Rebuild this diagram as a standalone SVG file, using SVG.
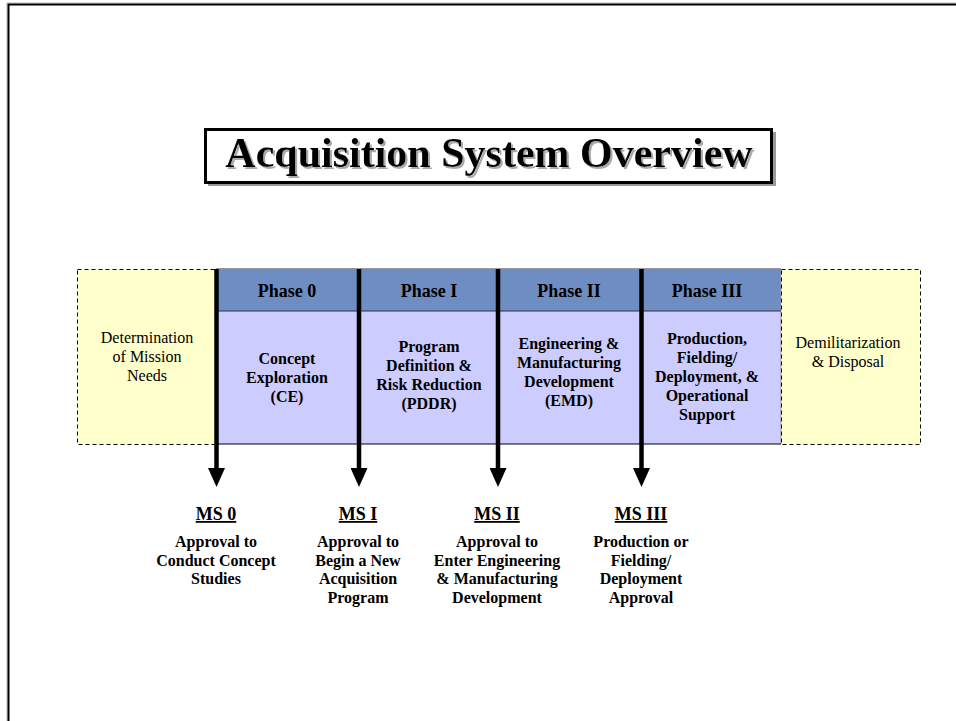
<svg xmlns="http://www.w3.org/2000/svg" width="956" height="721" viewBox="0 0 956 721" font-family="'Liberation Serif', 'Times New Roman', serif">
<defs>
<marker id="ah" viewBox="0 0 19 17" markerWidth="19" markerHeight="17" refX="0" refY="8.5" orient="auto" markerUnits="userSpaceOnUse">
<path d="M0,0 L19,8.5 L0,17 z" fill="#000"/>
</marker>
<filter id="sh" x="-5%" y="-20%" width="110%" height="150%">
<feOffset in="SourceAlpha" dx="2" dy="2" result="o"/>
<feFlood flood-color="#aaaaaa"/>
<feComposite in2="o" operator="in" result="s"/>
<feMerge><feMergeNode in="s"/><feMergeNode in="SourceGraphic"/></feMerge>
</filter>
</defs>
<style>
text{font-family:'Liberation Serif','Times New Roman',serif;fill:#000;text-anchor:middle}
.b{font-weight:bold;font-size:16px}
.n{font-size:16px}
.h{font-weight:bold;font-size:18px}
.ms{font-weight:bold;font-size:18px;text-decoration:underline}
.yel{fill:#FFFFCC;stroke:#000;stroke-width:1;stroke-dasharray:4,3}
.hdr{fill:#6E8DC2}
.body{fill:#CCCCFF}
.conn{stroke:#000;stroke-width:4.5;fill:none}
</style>
<rect width="956" height="721" fill="#fff"/>
<g id="page-frame">
<rect x="7" y="3" width="1000" height="800" fill="none" stroke="#bbb" stroke-width="1"/>
<rect x="8.5" y="4.5" width="1000" height="800" fill="none" stroke="#000" stroke-width="2"/>
</g>
<g id="title">
<rect x="208" y="132" width="568" height="54" fill="#999"/>
<rect x="205.5" y="129.5" width="566" height="53" fill="#fff" stroke="#000" stroke-width="3"/>
<text x="489" y="167" filter="url(#sh)" style="font-weight:bold;font-size:42px">Acquisition System Overview</text>
</g>
<g id="needs">
<rect class="yel" x="77.5" y="269.5" width="139" height="175"/>
<text class="n" x="147" y="343">Determination</text>
<text class="n" x="147" y="362">of Mission</text>
<text class="n" x="147" y="381">Needs</text>
</g>
<g id="phase0">
<rect class="hdr" x="216" y="269" width="143" height="42"/>
<rect class="body" x="216" y="311" width="143" height="133"/>
<text class="h" x="287" y="297">Phase 0</text>
<text class="b" x="287" y="364">Concept</text>
<text class="b" x="287" y="383">Exploration</text>
<text class="b" x="287" y="402">(CE)</text>
</g>
<g id="phase1">
<rect class="hdr" x="359" y="269" width="139" height="42"/>
<rect class="body" x="359" y="311" width="139" height="133"/>
<text class="h" x="429" y="297">Phase I</text>
<text class="b" x="429" y="352">Program</text>
<text class="b" x="429" y="371">Definition &amp;</text>
<text class="b" x="429" y="390">Risk Reduction</text>
<text class="b" x="429" y="409">(PDDR)</text>
</g>
<g id="phase2">
<rect class="hdr" x="498" y="269" width="143" height="42"/>
<rect class="body" x="498" y="311" width="143" height="133"/>
<text class="h" x="569" y="297">Phase II</text>
<text class="b" x="569" y="349">Engineering &amp;</text>
<text class="b" x="569" y="368">Manufacturing</text>
<text class="b" x="569" y="387">Development</text>
<text class="b" x="569" y="406">(EMD)</text>
</g>
<g id="phase3">
<rect class="hdr" x="641" y="269" width="140" height="42"/>
<rect class="body" x="641" y="311" width="140" height="133"/>
<line x1="781" y1="269" x2="781" y2="444" stroke="#999" stroke-width="1"/>
<text class="h" x="707" y="297">Phase III</text>
<text class="b" x="707" y="344">Production,</text>
<text class="b" x="707" y="363">Fielding/</text>
<text class="b" x="707" y="382">Deployment, &amp;</text>
<text class="b" x="707" y="401">Operational</text>
<text class="b" x="707" y="420">Support</text>
</g>
<g id="band-lines">
<line x1="216" y1="268.5" x2="781" y2="268.5" stroke="#999" stroke-width="1"/>
<line x1="216" y1="311" x2="781" y2="311" stroke="#333" stroke-width="1.2"/>
<line x1="216" y1="444" x2="781" y2="444" stroke="#000" stroke-width="1.2"/>
</g>
<g id="disposal">
<rect class="yel" x="781.5" y="269.5" width="139" height="175"/>
<text class="n" x="848" y="348">Demilitarization</text>
<text class="n" x="848" y="367">&amp; Disposal</text>
</g>
<g id="connectors">
<line class="conn" x1="216.5" y1="269" x2="216.5" y2="468" marker-end="url(#ah)"/>
<line class="conn" x1="359" y1="269" x2="359" y2="468" marker-end="url(#ah)"/>
<line class="conn" x1="498" y1="269" x2="498" y2="468" marker-end="url(#ah)"/>
<line class="conn" x1="641.5" y1="269" x2="641.5" y2="468" marker-end="url(#ah)"/>
</g>
<g id="ms0">
<text class="ms" x="216" y="520">MS 0</text>
<text class="b" x="216" y="547">Approval to</text>
<text class="b" x="216" y="565.5">Conduct Concept</text>
<text class="b" x="216" y="584">Studies</text>
</g>
<g id="ms1">
<text class="ms" x="358" y="520">MS I</text>
<text class="b" x="358" y="547">Approval to</text>
<text class="b" x="358" y="565.5">Begin a New</text>
<text class="b" x="358" y="584">Acquisition</text>
<text class="b" x="358" y="603">Program</text>
</g>
<g id="ms2">
<text class="ms" x="497" y="520">MS II</text>
<text class="b" x="497" y="547">Approval to</text>
<text class="b" x="497" y="565.5">Enter Engineering</text>
<text class="b" x="497" y="584">&amp; Manufacturing</text>
<text class="b" x="497" y="603">Development</text>
</g>
<g id="ms3">
<text class="ms" x="641" y="520">MS III</text>
<text class="b" x="641" y="547">Production or</text>
<text class="b" x="641" y="565.5">Fielding/</text>
<text class="b" x="641" y="584">Deployment</text>
<text class="b" x="641" y="603">Approval</text>
</g>
</svg>
